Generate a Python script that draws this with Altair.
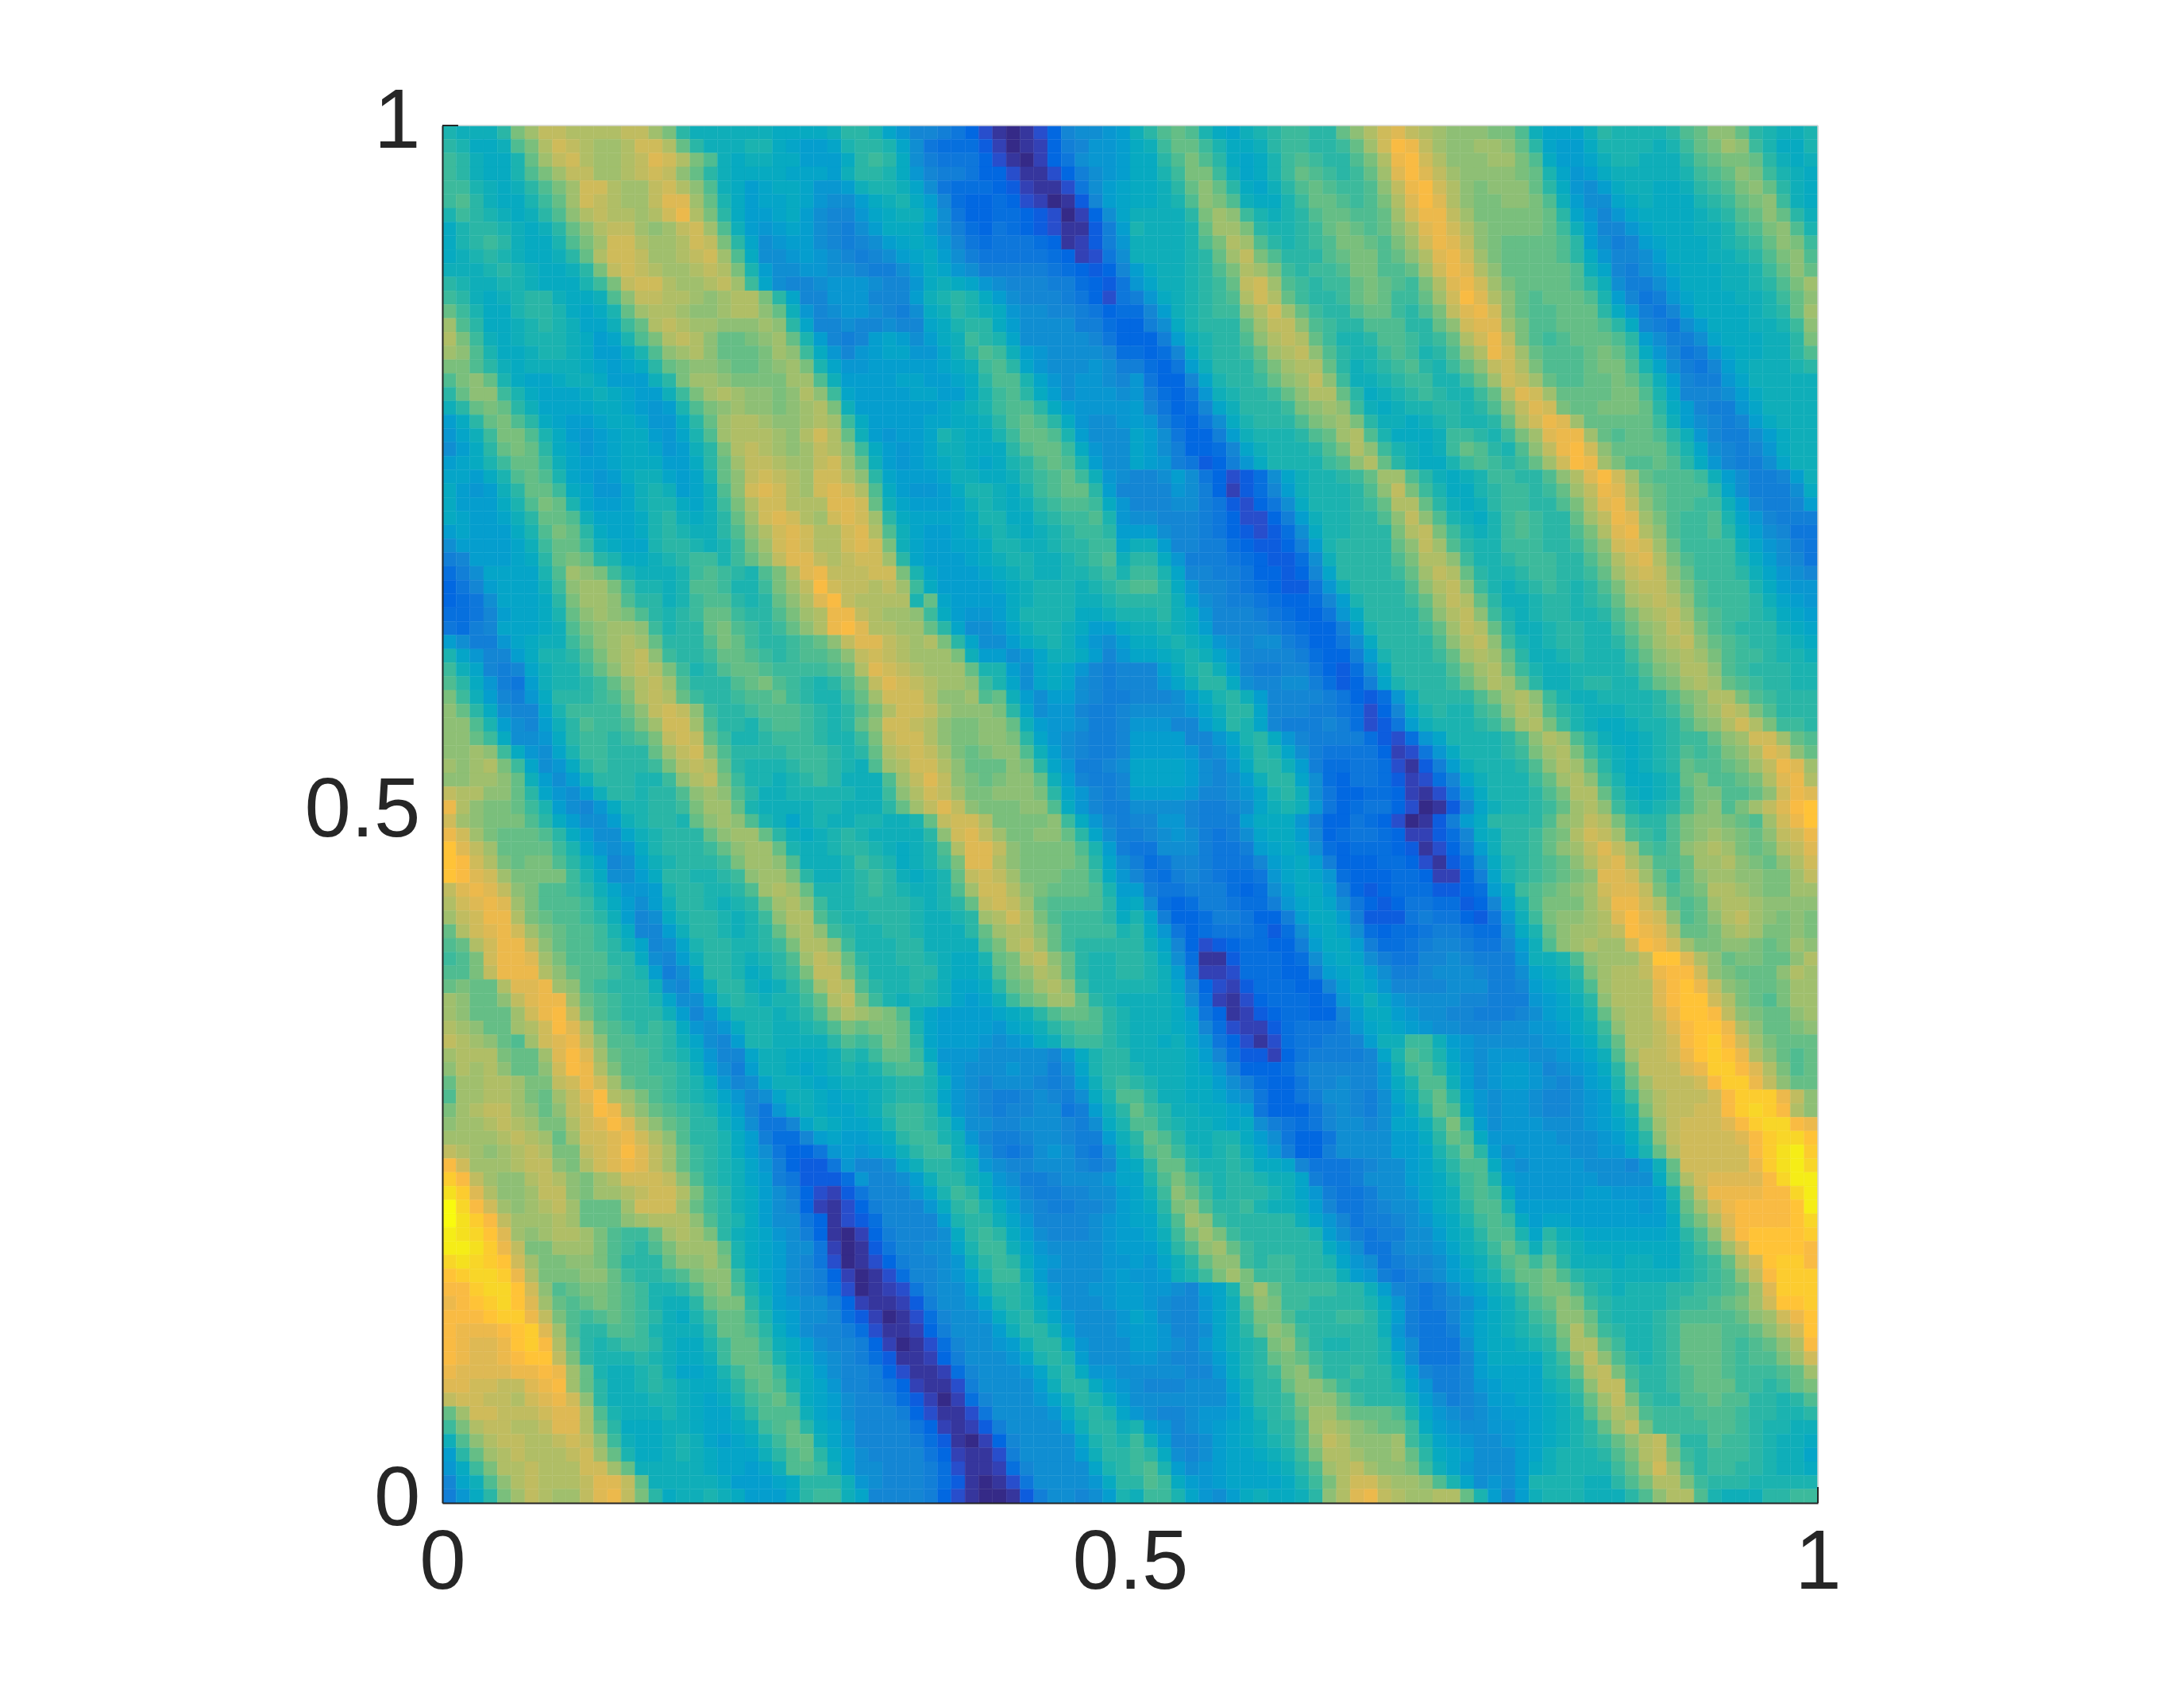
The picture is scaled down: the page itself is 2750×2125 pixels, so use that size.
import altair as alt
import pandas as pd

alt.data_transformers.disable_max_rows()

# Levels, one character per cell: 0-9 then a-z (0 = darkest, z = brightest)
LEVELS = "0123456789abcdefghijklmnopqrstuvwxyz"
rows_top = [
"gfffhlnppo oooppnlhff ffffeeeefh hgdb998753 101359aabc fhjkjgedfg hiihhkmoqr ponmmmlljf dddfhggggh jkmmkhgffg",
"hgeefjloqp onnoqqokhf ffggedccdg hhgda76664 2012589bbc efikkigeef hiihhiknqt spnmmnnmkh dcceggggfg iklnmigeeg",
"ihfeegknpq onnoprqolj feffeeccce hihea87775 310257abbc eehjljhede gijihhjlos tqommmnnlj eccdfggfff hjkllkhfef",
"ihfeegjlnp pnnopqpmkh feeeedddcf hhgeb98875 5311358abc eegillifde gikjihiknr trpnmmmmlk gdbcefffff gijkmligfe",
"iigfefhjln qqonnpqomj fecdeedbbc fggfda7666 5421137acd eefhkmkhed fhjkjiijmp stqomlmmmk hebaceffee fhijlmkhfe",
"ijhfeegikn qponnprrnk gecddedbaa cefgec9655 65320149cd eefgjmljfe egikkjijlo rtromllmml jfcaadefee eghiklmife",
"gihgfefhjm opoonoqsol heccdeca99 bdeffda755 66543025ad ffffhlnmig fghjkkjjkn qsspnlllll khdb9bdeee efghjkmkhf",
"eghhgfefhk moppnmnpqn jfcbcdca98 aceeeca865 765431148c gfffgknnlh gghiklkjkm orsqomllll kifc99bdee effgijlmjg",
"eghihfeegj lnqqonnoqp lhdabcca98 9acdedb976 777651248b ffffgjlonj hghijllkjl nqsrpmlkkk kjhca89cde eefghikmli",
"efghgfeefh koqqpnnopq njeaabcba9 89acdeca87 777765237a ffffghknpl jhhhjklljk morsqnlkkk kjheb99ace eeffghjlmj",
"fffghgfeef hlpqponnop olgcaabbaa 988acedba8 8888765459 ceffghjlon lihiijlljj knqsromkkk kkjfd98abd eeeffgikmk",
"hgffggfeee gilpqqonno pnida99abb ba99befedb a999886547 bdffghikpq njihiiklkj ilorsqnlkk kkjhfa88ac eeeffghjln",
"ihfefghhfe efjmppoonm noolhd99bb b999cfghge ca99987537 8befghijoq okihhiklki iknqtromkj kkkjgc978b deeeffgikm",
"kigeeghhge degknoonmm noomkfb9ab ba98aefhgf ebaa998756 69cfghiimo qnkihhjkki hjlprsqmkj jkkkheb879 ceeeefghkn",
"njheefghgf ddfikoponn mmmnmhd99a 99a99deghh ecaaaa8865 58aeghhhkn ppmjihhjjj hhkmqrrnlj jkkkjhe987 aceeeffgim",
"olifefgggf ecdgjlopom kklmnkgc98 9cdcacefih gdaaaaa975 558cfghhjm opokigghjj ihikoqsplj ijkkkjhca8 8adeeeffhl",
"nmjgeefggf eccegjmnom kkklnmieb9 bcddbbdfhj ifcbaaaa96 6569eghhik nopmjhggij ighjmosqnk jjjklkieb9 78bdeeffhj",
"lljhfeffff edcdehklmm lkklmnlgdb bcccccdefi jhdbaaaba8 8657cfhhhj lnookhfghi jhgikmpqol jjjklljgda 879cefffgh",
"jlmkgeddef fecccfhlnn mllllnnjfc cccddccdeh jjgdbabba9 b7559dghhi kmnpmiffgh iiggiknqpn kjjkklkifc 988bdfffff",
"hkmmigeddd efedccfiln onmmlmomid ccccddcceg ijhecabbba b8657bfghh ikmookhefg hihggikorq nkkkklljgd 999aceffff",
"fhklkhfddd deedcbcgjl mnmmlmnolf ccccccdefg ijjhecbbbb c97569dfhh hilmnmifef gghhghjmpr qlkklllkhe c988bdffff",
"cehkljhedc cdeedbbehk noonmmnoni eccccddeef hjkjhebaab cb8657aegh hhjlmnlhff efghgghkoq srnkkkkkif ca989cefff",
"bdfilljgec bcdeecbdgj nooonmoqok fcbccdgfee gikkjgcaaa dca7558cfg gghjknojge eefiihgiln rssnkjkkjh fb988aceff",
"acehklkhed bcdeedbcfh loponmnpom iecbcdffee ehjkkiebaa dca85569df ggghjlomig fefikjhgjm pstqmkkkki gda989beff",
"cdegikkifd ccdeeecceh knpponnpqn kfcbcdefed eghjkjgcaa dcb87458be ggggijmokh feegijihik nqtsnljjkj heb988adff",
"ddcegjkjgd cbceffdcdg kmpqponqqo mhdcccdffe efhijkifba 99aca75346adfgghiknnjhfefgiihhjmortqnkjjjifca889cf",
"ecbcfhkkie dbbdfgfcdf jmqrqonqrq ojecbbcegg fegijkkhc9 999ba852469cfggghjmpligeeghiihiknpsrolkjjjhda888ae",
"ecccegjlkg dccdfggedf iloqqooorr qkfdcccdfg fefhijjieb 999aa874357aeggghikookhfefhiihhjlorspmkjjiifc9889c",
"edccdfhkkj fdddeghfef hknqrqonqr qnheddddeg geeghiijgb aa9998753358cfgghhjmpmjgfegijihhknpsrnljiijgdb9888",
"cdcccegjlk heddeghgff hjmoqrqooq rojfdccdef gfefghiihc cca998754346aegghhhlopligfgijihhjlorsomjiijheca977",
"accccdfikk ifeddghhgf gilnqrqooq rqlfdccdde ggffghhiid ffc9988654458cghhhhkmpnjhggiiihhikmqrqnkiiiifdba87",
"89cccdehkl khgeefghii gikmprrpop qqnhdcccde fggffghijf hheb888765446afhhhhjloomigghiiihhjloqroljiiigeca97",
"68addddgjn mligfffgij ihgjlorspp pqqlgdcccd efgffgghig iigd9988755459dhhhhiknpokhgghiihhiknpqpmkiiihfdba9",
"579cdddfim nnliggfgjj iggilnptqp popniecccc defgggfghi jjheb998765447bfhhhhjmopmigfghihghjloppnljiiigecbb",
"567adddehl nnmjhhfgij jhghkmortp oooogkdccc cefgggffgh hhhfca988765569cghhhiknpokhffghhghiknopomjiiihfdcb",
"6679cddegk mnmljhghik kihhjlnoss ponnmiecbb ceggggeefg gghfeb999876557behhhhjmopmigfghhgghjlnopnkjiihgedc",
"7689dddefj lmnnmighhk ljihikmost roonnkhdaa bdfggfecce ffgfec9999876558cghhhiknpokhffghhggikmnpoljihhhfed",
"ca88bdeffi kmnonkhhhj lkihhijkmp rrponolhda acefgfdbac eefgfeba9aa87557aehhhhjmopmigfghhgghjlnopmkjihhgfe",
"gdb99ceggh jlnopmihhi kkjihijjkm pqponnnlfc cabdffec9b ddefgfdb999986558cghhhiknonkhffghgggikmnonljiihggf",
"ifd989dfgg ikmopoligh jkkjiiiijk orqponnnkg gcadedb989 99ceghfc988997546aehhhhjlnoligffgggghjlmoomjihhhgg",
"jheb87cfgg hikmopnjhh hjkljihghj lprqponnmi gdadeda989 99bdfhhea99aa86458dghhhikmonkhffghhggiklnonkjihhgg",
"lifc98behh hijlopokih hijjkihggi knqqqommnj kfcacca988 999aceghfc999987546bfhhhhjlnomigffgggghjlmooljihhh",
"mkhea99dgi iiikmpqpmi hhijjjihgh jloqqpnmmm lhdabb9889 aaaabdfhhd9998876359eghggijmonjhgfffgghikmnpoljhhh",
"mmjgca9cfh jiijlnqqnj hhgijjihgh kmqqpomllm mkfcbba889 bbb99cehgd9888986347cfggghiknoligfeefgghjlmoqoliih",
"mmkieaabeh iihijlpqpk igghiiihgg ilpqqomllm mlhdba9889 cccc99bdgheb988886436bdgggghjmonjhfeefghiikmnqqnkj",
"mmnmiebadg iihhhknpqm jhhhhiiihg hkopqpnlkl mmjfca9889 ccccb9acfhgda877775237beggghilnoligfefghjijlmorqmk",
"nmnolidabe hihhhilopo khggghiihg fjnoqqomkk kmlhdb889a ddddca9behhfc8667763148cfggghjmonkhfefghkjjklnpsrn",
"mmnnmkfcac fhhhggimop liggfghihf ffjnprpmlk lmmkfc9889 ddddca9acfhhda6577642369dfgggiknomigeefgkljjklorso",
"poommkhdba cfhhghhjmn mjhffggggg ffimoqpnll mmmlhdb989 ccccb99abdghfa7556652137beggghjlookhfefgjlljjkmqsr",
"somllkigca 9begghhiln nkgffffggf ffhknprpml llmmjeb988 aaaa9889adfgfb75677530149dfgghiknomigfghjlmjlnprtu",
]
rows_bottom = [
"qnmllljhec aacfghhgkm nmjgfdfgff ggffgkpqqo llllmieb98 99bb9888ce eeb8557653 0148cehhhh jmnpolihhj lmmlkjnqsu",
"sqnlkkkjhe caadfghhhk mnnkhfefgh gffffhmqrp nllmmkhda8 89aba878ad eec9567765 22469efhhi kloqpnjihj lmnmlkmpqs",
"urpnkkkkig dbabeghhhi kmnnkgffgh hgfefgjorr pmlllljgc8 77aaa8778c deda656665 41358cfhhi kmnprpnjij mnonlklopr",
"utqolklljh fd9adfghhh ilnnmjfffg ihgefgilrr omllllkhda 8679987779 cdec855566 53146aeghi jkmoqromjj knnomlkmoq",
"utrqnlllli geaacehhgg himnnlhffg hihfefgkpq pnlllkkieb 9768987667 bdedb65556 652258dghi jklmrrqnki kmnnmmllnp",
"prsrpmljji hfdbbcghhg ghjnonkggg hihgffgjnq qomlkkkjgc c877888656 aceec85456 664456ceij klmnqrrplj kloonmllnn",
"oqrsrnljjj igecacfhhg fghknomigg hhhhgfghkp qpnkjjjjhd ea65688766 8bdeda7545 7766459dgj lllnpssqok jknoonmmmm",
"npqssolkjj ihfc9aeghh gfgimoojhg ghhhgffghn oqoljiiihe gd85568875 58ceec8444 7877547bfi lmmnortrqm jkmopnmlml",
"koqrsqnlkj jige99cfhh gfghknomih gghhgfffhk noomkiiiig heb7567776 46adeda656 6788766aeg kmnnoptsro kklnonllml",
"jkoqsspmkj jihfd9adgh hgghiloomi ggghhffffj lopnkihhhh hfd9534566 558ceec866 78998779cf jmnonnqtsq nllmmlklnm",
"ijlqssrnlj jjhhea9cfh hgfghjnpok hgghhgfeeg klopmkhggh hgea611466 656adeda87 799a9888bf fgjmnnnpuu romkllkkmo",
"jjlpsssomk jjihgc8adh hgefhilppl iggghhfeef jlmonkhggh hgfc722366 6558cdeca8 89aaa988ad efhlnoopst tqmlkkkmon",
"klkkorrsnm jihhhfa9cf hhfefhjnpo jhgghgfdde hklnomiggg ggfd953246 66559cedb9 999aaa889c degjnooort uspmlkklnn",
"nmkkmprssn kjihhgdaad ghgfggikop ligfggfdcd fiklnnkhgf fffea62135 66656bdfdb aaaa99888b cdfhmooort uuqolkjlnn",
"nmkkknqstp ljihhhfc9b egggfghjmo nmljfdcccc defhjkkjhg fffec75124 566559ceec baa998889a cdegknooqs uutpmlkkmn",
"onmkknoqtr okjihiheba beggffghjl kllkgdcccc bdefhijjhg fffed96322 467778bded cbaa999aab bcefimoopr tuusomkklm",
"ponmkjnqrs pmjjiihfda 9cggffffhj ijlkhdcccb abcefhiihg ffefdb7531 3677889cff iifcbaaaaa bbdehkoopq tuvtqnlkkk",
"nooolkknrt rnkjjihgeb 99dffeeefh gikkiebbba aaaa9beghh ffffec9644 25788889dg jigdbabbba abcdfjnppq suvusomkjk",
"monomkkmqt soljjiihfc a8cffedefg fgijjgcbaa abaa8adghh gfffedb855 56899999bf ijhecabccb 9abcehlppp rsvvtroljk",
"knnoonllpq sqnkjjihge b9adffedef ffghhgeba9 aaa989cfhi hgffeeca86 55799a99be gjjfcabccb a9acdgknpp pqtvvspmkk",
"jnnoonlknp rtonljihgf db9adffede efghhgdba9 889a98aegj jhffeedba7 5578aa98ad fikhdbabba 99abcfimop ppqtvvvspm",
"lnoppnmkmp qtsomkjihg ec97befedd efhiiheba9 899aa78cfh kihffeedc7 55579a98ac ehkjebabba 99abceglop pqqtvwvtom",
"mnnoponllo qrtromkjhh fda779dfed degiihgdaa 99aaa98aeg jjhgffedea 87679aa9ad dfilhcabbb aaabcdfjnp qqqrtvwwts",
"nnnnoponkn qqrsqomjhh gec8669cdc cdehiigfb9 889aa988cf hkjhffggec a7557aaaac cehkjebbbb baaabcehmp qqqqrtvwwu",
"ponmnopoll pqrtrpnkih geca7557bc bcdfhiifda 878aba87ae gjkigfghfd b8558aaaac cdgikhcabb bbaabbdgko qqqqqtvxyv",
"tqnnnoppml oqrsrpnkih gfdb85447b 99adfhhgfb a99aaa989d ehkkhgghge ed977789aa cdfhjjebab bbbaaa9bfk qqqqqsvxyw",
"vtpnmmopom lnoqqqpmjh gfdc874446 b99acfhhfe ba889aaabd dgjljhghhg ffd8778aaa cdegijgcbb bbbbaaaaej oqrrrrtwyy",
"xvrommnppm lnnopqqoli hfeca85324 7999bdgihe cb98899aac dfimkighhh gfdb8778aa bdefijiebb bbbccbbbcg lpssssttwy",
"zwtqnmnopn kkknqqqnki hfeca95213 58999behig eca98899ac dehlmjhhig ffec97789a acefhjjgcc cccccccbcf knqsttttuy",
"zxvtpnnnon kkkmnooomj hgecaa7513 469999cghh fdb9999abc ddgjnmihhh hhfdb97889 abdegijiec ddccccccce jlorttttuw",
"yxwurnmnoo nljiiknonl hfedba8510 258999aehi heca999abc cdfilnlihh hhhgca8788 aacefhjjgd hfedddddde hjmqtuuuuv",
"yyxvspllnn nljihjlnnn kgedcaa720 14799aadgi ifdbaaaabc ccehjmnkih hhhheca779 aabdfgikif igfeeeeeee giknquuuut",
"wxwvuqnllm mljhhhkmmn lgedca9730 135899abfh ihecbaaabb cbdfhkmmih iihhgdba78 99acefhjki khfffeffee ghikoquvvt",
"uvwwvsolll mmkihhijlm mifdca9852 013699abdg iifcaaaabc bbcfgilnli iihhhfcb87 89acdfgikk ljhggfffff ghijmptvvv",
"ttvwwuqmjk llkjigghjl mjgeca9863 012379aacf hhgdbaabbc cbba9cdgln kiiiihhfc9 878acdfgik lljhgfgggh hiijknrvvv",
"stuvwurnkj klkjigffhk llhfcbaa85 211248aabd ghgecaaabc cba99bdfjm liihhhhgeb 8789acefhj kmlihggggh iijklnquuv",
"tttuvvsplj ijkjihfegi kkigdcaa96 4201369aab eghfdbaaab dca99bdfil ljhhhiihfc 8779bdefgi jmmkhggghi jjjjkmnqsu",
"tssstuvrnj hhjjigfffh kkjheca998 6311258aaa cfhhfcaaab ccb99adfhk mlihhhhhfb 8778bdefgh ilolihgghi kkkjjkmoqu",
"tsrrsuvtok hghiihfeeg ikkifeca99 85201369aa bcfhhebaaa ccba9bdfgh lmjhgghhgc a777adeefg hkookigghi kkkjijkmot",
"tsrrstuupl hggghgfeef ikkjgedba9 86411258aa abdghgcaaa bba99acegh klkihhhhge a7779ceeee gimpmjhghi kkkjijjlnq",
"srrrrsstsn kgffghfdde gikkifeca9 985311269a aabdghebba aaaa99begh ilmjhhihhf c9889cdddd ghkoplihhi jkkjiiijkn",
"rrqqpprstn khffghgfee fhjkjgedb9 987521138a aaacfhhecb a999aaadfh hkmmkihhhg db889bcddd fgimppjhhi jkkkiihikl",
"pqqppoqrsq mhfffggfed egijkiedca 9986420269 aaabdfhgec aaaaaaacfh hilmmkihhh fca89accdd efhknplihh jjkjjhhghj",
"knqqpppqrr ojgfffgfed dfhjjjfdca 9998531137 aaaabeghgd ba99abbceg hiknnlkkkj gdba9abccd efgjmonjii ijjjihhggh",
"iloppooprr okheeeffed defijkhedb 9999752124 8aaaacfhhf gcb9abcdef hhjnonmlkk iecbaabbcd efghknplii iijjihggff",
"fjmoppoopq pmifeefgfd cdegikkfdb 9999864102 59aaaadghg ifc99acdef ghjmpommmn igdcbaabcd efghikmopk hhjiihgffe",
"chknopooop qnkgeefgfe dddfhjkhec a999975211 38aaaacfhh ihea9acdde fgiloonmmn khedcaaacd fggghjlopl ihiiihgffd",
"beiloopooo qqnkfffffe ddcdfjjifc aa99986311 269aaaadgh ijgcabcddd efhjnopnmm lifdbaaace fggggiknqn jhiihhgffe",
"9dfjmopooo prrpkfffff ecccdehhhf ba99986410 137aaaabeh hjiecbcddd degiloqqon nmjgdabacg gggffhjloo lihhhggggg",
"8behlnponn prsplheffg fecccehiif d999985310 0148aa9acg fiigdbacef eefhmorspo nnookgc9cf gggfffhjmo ojgfffhhii",
]

parula_colors = [
"#352a87","#363093","#3637a0","#353dad","#3243ba","#2c4ac7","#2053d4","#0f5cdd","#0363e1","#0268e1",
"#046de0","#0871de","#0d75dc","#1079da","#127dd8","#1481d6","#1485d4","#1389d3","#108ed2","#0c93d2",
"#0998d1","#079ccf","#06a0cd","#06a4ca","#06a6c6","#07a9c2","#0aacbe","#0faeb9","#15b1b4","#1db3af",
"#25b5a9","#2eb7a4","#38b99e","#42bb98","#4dbc92","#59bd8c","#65be86","#71bf80","#7cbf7b","#87bf77",
"#92bf73","#9cbf6f","#a5be6b","#aebe67","#b7bd63","#c0bc60","#c8bc5d","#d1bb59","#d9ba56","#e1b952",
"#e9b94e","#f1b94a","#f8ba44","#fdbe3d","#ffc337","#fec832","#fccd2e","#fad32a","#f7d826","#f5de21",
"#f5e41d","#f5eb18","#f6f313","#f9fb0e",
]
tick_values = [0, 0.5, 1]
tick_labels_expr = "datum.value === 0 ? '0' : datum.value === 1 ? '1' : '0.5'"

INK = "#262626"
GRID_N = 100
cells = []
for r, raw in enumerate(rows_top + rows_bottom):
    text = raw.replace(" ", "")
    text = (text + text[-1] * GRID_N)[:GRID_N]
    for c, ch in enumerate(text):
        idx = LEVELS.find(ch)
        if idx < 0:
            idx = 17
        cells.append({"x": c / GRID_N, "x2": (c + 1) / GRID_N,
                      "y": 1 - r / GRID_N, "y2": 1 - (r + 1) / GRID_N, "v": idx})
df = pd.DataFrame(cells)

xs = alt.Scale(domain=[0, 1], nice=False, zero=False)
ys = alt.Scale(domain=[0, 1], nice=False, zero=False)
cs = alt.Scale(domain=[0, 35], range=parula_colors)

x_axis = alt.Axis(values=tick_values, labelExpr=tick_labels_expr, grid=False, ticks=False,
                  domainColor=INK, domainWidth=2, labelColor=INK, labelFont="Liberation Sans",
                  labelFontSize=105, labelPadding=24, labelAngle=0, labelFlush=False,
                  labelOverlap=False, title=None, zindex=2)
y_axis = alt.Axis(values=tick_values, labelExpr=tick_labels_expr, grid=False, ticks=False,
                  domainColor=INK, domainWidth=2, labelColor=INK, labelFont="Liberation Sans",
                  labelFontSize=105, labelPadding=28, labelFlush=False, labelOverlap=False,
                  labelBaseline="middle", labelOffset=-5, title=None, zindex=2)

heat = alt.Chart(df).mark_rect(strokeWidth=0.4).encode(
    x=alt.X("x:Q", scale=xs, axis=x_axis),
    x2="x2:Q",
    y=alt.Y("y:Q", scale=ys, axis=y_axis),
    y2="y2:Q",
    color=alt.Color("v:Q", scale=cs, legend=None),
    stroke=alt.Stroke("v:Q", scale=cs, legend=None),
)

# Light top and right box edges, and the two short inward ticks visible at the corners
edge_df = pd.DataFrame({"x": [0, 1], "x2": [1, 1], "y": [1, 0], "y2": [1, 1]})
edges = alt.Chart(edge_df).mark_rule(color="#d9d9d9", strokeWidth=1.5).encode(
    x=alt.X("x:Q", scale=xs, axis=x_axis), x2="x2:Q",
    y=alt.Y("y:Q", scale=ys, axis=y_axis), y2="y2:Q")
tick_df = pd.DataFrame({"x": [0, 1], "x2": [0.0115, 1], "y": [1, 0], "y2": [1, 0.0115]})
corner_ticks = alt.Chart(tick_df).mark_rule(color=INK, strokeWidth=2).encode(
    x=alt.X("x:Q", scale=xs, axis=x_axis), x2="x2:Q",
    y=alt.Y("y:Q", scale=ys, axis=y_axis), y2="y2:Q")

chart = (heat + edges + corner_ticks).properties(
    width=1732, height=1734,
    padding={"left": 549, "top": 150, "right": 120, "bottom": 200},
    autosize="none",
).configure_view(stroke=None).configure(background="white")

chart.save("out.html", embed_options={"renderer": "svg", "actions": False})
